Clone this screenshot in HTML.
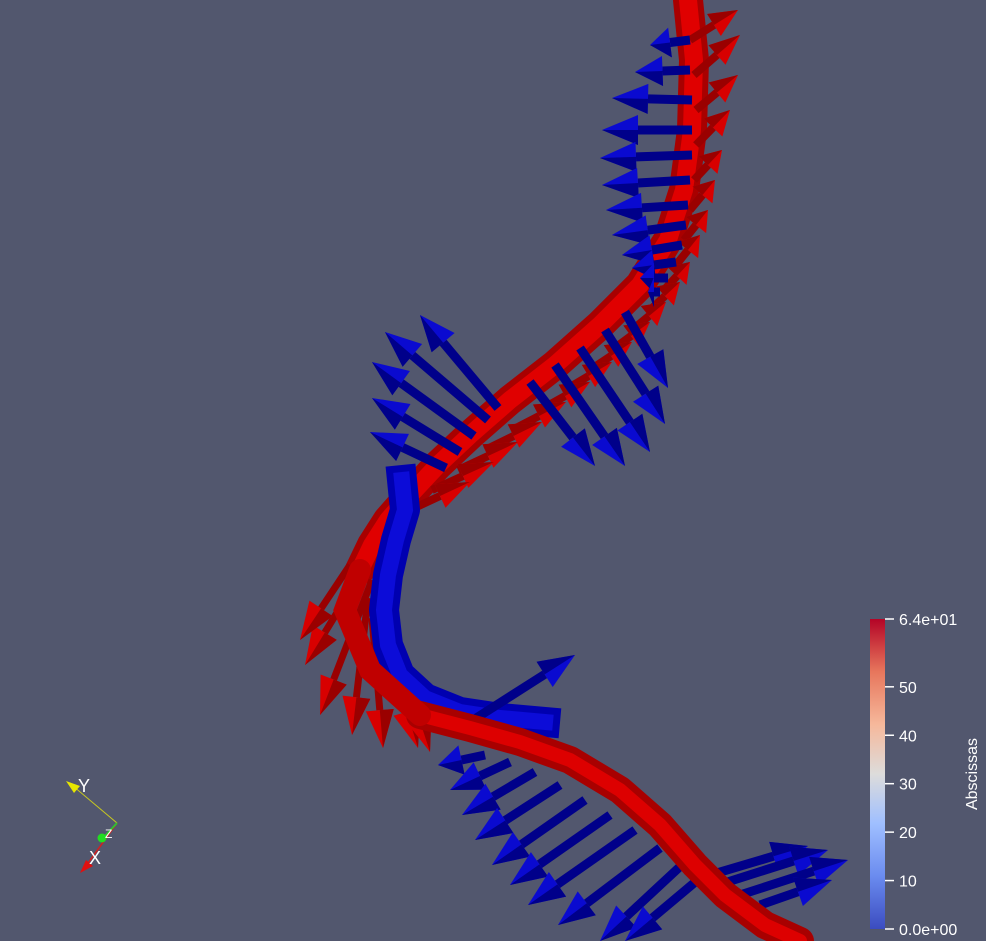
<!DOCTYPE html>
<html><head><meta charset="utf-8"><style>
html,body{margin:0;padding:0;background:#52576e;}
svg{display:block;font-family:"Liberation Sans",sans-serif;}
</style></head><body>
<svg width="986" height="941" viewBox="0 0 986 941" id="view">
<defs>
<linearGradient id="cmap" x1="0" y1="1" x2="0" y2="0">
<stop offset="0" stop-color="#3b4cc0"/><stop offset="0.17" stop-color="#6a8bef"/>
<stop offset="0.34" stop-color="#9fbfff"/><stop offset="0.5" stop-color="#dddcdb"/>
<stop offset="0.66" stop-color="#f6b89b"/><stop offset="0.83" stop-color="#e7765c"/>
<stop offset="1" stop-color="#b40426"/></linearGradient>
</defs>
<g id="scene"></g>
<g id="cbar"></g>
<g>
<line x1="117" y1="823" x2="73" y2="786" stroke="#c8c820" stroke-width="1"/>
<polygon points="66,781 80,786 74,793" fill="#e6e600"/>
<text x="78" y="792" fill="#fff" font-size="18">Y</text>
<line x1="117" y1="823" x2="86" y2="866" stroke="#d02020" stroke-width="1.5"/>
<polygon points="80,873 86,860 93,866" fill="#e01010"/>
<text x="89" y="864" fill="#fff" font-size="18">X</text>
<line x1="117" y1="823" x2="104" y2="837" stroke="#30c030" stroke-width="2"/>
<circle cx="102" cy="838" r="4.5" fill="#22dd22"/>
<text x="105" y="838" fill="#fff" font-size="12">Z</text>
</g>
</svg>
<script>
// Colour legend
const tickValues=[0,10,20,30,40,50,64];
const tickLabels=["0.0e+00","10","20","30","40","50","6.4e+01"];
const cmin=0,cmax=64;
// red ribbon centerline
const redX=[688,694,692,684,668,640,600,555,510,470,438,410,388,372,360];
const redY=[0,60,130,190,240,285,325,365,400,435,465,495,520,545,570];
const redX2=[420,470,520,570,620,660,695,725,765,800];
const redY2=[715,728,742,760,790,825,865,895,925,941];
// blue tube
const tubeX=[402,405,396,388,384,388,400,425,460,500,545];
const tubeY=[480,510,540,575,610,645,675,698,712,718,722];
// arrows: start x, start y, end x, end y
const blueSX=[690,690,692,692,692,690,688,686,682,676,668,660,
  498,488,474,460,446, 530,555,580,605,625,
  470, 485,510,535,560,585,610,635,660,685,700, 700,718,740,760];
const blueSY=[40,70,100,130,155,180,205,225,245,262,278,292,
  408,420,436,452,468, 382,365,348,330,312,
  722, 755,762,772,785,800,815,830,848,862,878, 878,885,895,905];
const blueEX=[650,635,612,602,600,602,606,612,622,632,640,648,
  420,385,372,372,370, 595,625,650,665,668,
  575, 438,450,462,475,492,510,528,558,600,625, 808,828,848,832];
const blueEY=[45,72,98,130,158,185,210,235,255,268,278,292,
  315,332,362,398,432, 466,466,452,424,388,
  655, 765,790,815,840,865,885,905,925,941,941, 846,850,860,880];
// red cones: fan and along upper ribbon
const redSX=[372,368,372,385,400,360,350, 690,694,696,696,694,690,684,676,664,650,632,612,590,565,540,512,485,458,432,410];
const redSY=[580,598,618,640,660,575,565, 40,75,110,145,180,210,240,265,290,310,330,350,370,390,410,430,450,470,490,510];
const redEX=[320,352,383,418,430,305,300, 738,740,738,730,722,715,708,700,690,680,666,650,632,612,590,566,542,518,494,470];
const redEY=[715,735,748,748,752,665,640, 10,35,75,110,150,180,210,235,262,282,302,322,342,362,382,402,422,442,462,482];

const NS='http://www.w3.org/2000/svg';
const scene=document.getElementById('scene');
function mk(t,a,p){const e=document.createElementNS(NS,t);for(const k in a)e.setAttribute(k,a[k]);(p||scene).appendChild(e);return e;}
function pts(X,Y){return X.map((x,i)=>x+','+Y[i]).join(' ');}

// ribbon
let rb=mk('polyline',{points:pts(redX,redY),fill:'none',stroke:'#a80000','stroke-width':30,'stroke-linecap':'round','stroke-linejoin':'round'});


let rb1=mk('polyline',{points:pts(redX,redY),fill:'none',stroke:'#e00000','stroke-width':18,'stroke-linecap':'round'});



function arrow(x1,y1,x2,y2,col,dark,w,hw,hlMax,name){
  const dx=x2-x1,dy=y2-y1,L=Math.hypot(dx,dy)||1,ux=dx/L,uy=dy/L;
  const hl=Math.min(hlMax,L*0.5);
  const bx=x2-ux*hl,by=y2-uy*hl;
  const g=mk('g',{});
  
  
  mk('line',{x1:x1,y1:y1,x2:bx,y2:by,stroke:dark,'stroke-width':w},g);
  mk('polygon',{points:`${x2},${y2} ${bx-uy*hw},${by+ux*hw} ${bx+uy*hw},${by-ux*hw}`,fill:col},g);
  mk('polygon',{points:`${x2},${y2} ${bx},${by} ${bx+uy*hw},${by-ux*hw}`,fill:dark},g);
}
for(let i=0;i<redSX.length;i++){
  const up=i>=7;
  arrow(redSX[i],redSY[i],redEX[i],redEY[i],'#d80000','#9a0000',up?8:7,up?13:14,up?40:38,'red-arrow');
}

// blue tube
let tb=mk('polyline',{points:pts(tubeX,tubeY),fill:'none',stroke:'#0000b0','stroke-width':30,'stroke-linecap':'square','stroke-linejoin':'round'});


let tb2=mk('polyline',{points:pts(tubeX,tubeY),fill:'none',stroke:'#0c0cd8','stroke-width':16,'stroke-linecap':'square'});


for(let i=0;i<blueSX.length;i++)arrow(blueSX[i],blueSY[i],blueEX[i],blueEY[i],'#0a0ad0','#00008a',9,15,36,'blue-arrow');

// lower red ribbon
let rl=mk('polyline',{points:pts(redX2,redY2),fill:'none',stroke:'#a80000','stroke-width':28,'stroke-linecap':'round','stroke-linejoin':'round'});


let rl2=mk('polyline',{points:pts(redX2,redY2),fill:'none',stroke:'#dd0000','stroke-width':14,'stroke-linecap':'round'});


let rm=mk('polyline',{points:'360,570 345,610 370,670 420,715',fill:'none',stroke:'#c00000','stroke-width':22,'stroke-linecap':'round'});



// colour bar
const cb=document.getElementById('cbar');
const bx=870,bw=15,y0=929,y1=619;
const yv=v=>y0-(v-cmin)/(cmax-cmin)*(y0-y1);
let rect=mk('rect',{x:bx,y:y1,width:bw,height:y0-y1,fill:'url(#cmap)'},cb);


tickValues.forEach((v,i)=>{
  const y=yv(v);
  mk('line',{x1:bx+bw,y1:y,x2:bx+bw+9,y2:y,stroke:'#fff','stroke-width':1.5},cb);
  const t=mk('text',{x:bx+bw+14,y:y+6,fill:'#fff','font-size':16},cb);
  
  
  t.textContent=tickLabels[i];
});
const ti=mk('text',{x:977,y:774,fill:'#fff','font-size':16,transform:'rotate(-90 977 774)','text-anchor':'middle'},cb);


ti.textContent='Abscissas';
</script>
</body></html>
